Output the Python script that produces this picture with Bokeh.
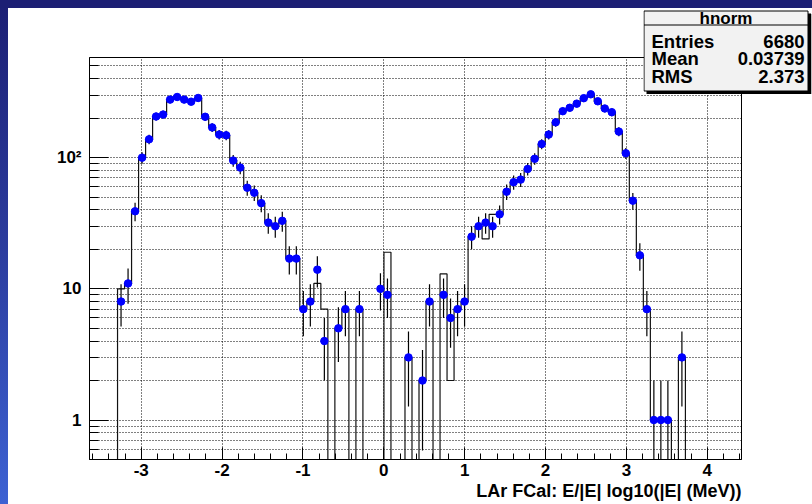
import math
from bokeh.plotting import figure
from bokeh.layouts import column
from bokeh.models import (ColumnDataSource, SingleIntervalTicker, FixedTicker,
                          Title, Range1d)
from bokeh.core.properties import value
from bokeh.embed import file_html
from bokeh.resources import INLINE

# ---- binning of the histogram (axis definition) ----
x_min = -3.64
bin_width = 0.0867
n_bins = 93
first_filled_bin = 4   # index of the first bin listed below

# ---- values: points with error bars (bins from x ~ -3.25 onwards) ----
point_counts = [8, 11, 39, 100, 138, 206, 213, 277, 290, 277,
                267, 285, 205, 170, 150, 148, 95, 84, 59, 54,
                45, 32, 30, 33, 17, 17, 7, 8, 14, 4,
                0, 5, 7, 0, 7, 0, 0, 10, 9, 0,
                0, 3, 0, 2, 8, 0, 9, 6, 7, 8,
                25, 30, 32, 30, 37, 55, 65, 68, 82, 98,
                127, 150, 186, 226, 240, 258, 284, 304, 269, 237,
                222, 158, 108, 47, 18, 7, 1, 1, 1, 0,
                3]

# ---- values: reference histogram drawn as an outline ----
line_counts = [10, 11, 39, 100, 138, 206, 213, 277, 290, 277,
               267, 285, 205, 170, 150, 148, 95, 84, 59, 54,
               45, 32, 30, 33, 17, 17, 7, 8, 11, 7,
               0, 5, 7, 0, 7, 0, 0, 0, 19, 0,
               0, 3, 0, 2, 8, 0, 13, 2, 7, 8,
               25, 30, 24, 37, 37, 55, 65, 68, 82, 98,
               127, 150, 186, 226, 240, 258, 284, 304, 269, 237,
               222, 158, 108, 47, 18, 7, 1, 1, 1, 0,
               3]

y_tick_labels = {1: "1", 10: "10", 100: "10\u00b2"}
x_tick_labels = {-3: "-3", -2: "-2", -1: "-1"}
x_title = "LAr FCal: E/|E| log10(|E| (MeV))"
stats_title = "hnorm"
stats_names = ["Entries", "Mean", "RMS"]
stats_values = ["6680", "0.03739", "2.373"]

FONT = "Liberation Sans"
y_lo, y_hi = 0.5, 580
floor = 1e-3

x_max = x_min + n_bins * bin_width

def padded(counts):
    full = [0] * n_bins
    for i, c in enumerate(counts):
        full[first_filled_bin + i] = c
    return full

line_full = padded(line_counts)
point_full = padded(point_counts)
edges = [x_min + i * bin_width for i in range(n_bins + 1)]

# outline of the histogram
ox, oy = [edges[0]], [floor]
for i, c in enumerate(line_full):
    v = c if c > 0 else floor
    ox += [edges[i], edges[i + 1]]
    oy += [v, v]
ox.append(edges[-1]); oy.append(floor)

centers, vals, lo, hi = [], [], [], []
for i, c in enumerate(point_full):
    if c > 0:
        centers.append(0.5 * (edges[i] + edges[i + 1]))
        vals.append(c)
        e = math.sqrt(c)
        lo.append(max(c - e, floor))
        hi.append(c + e)

src = ColumnDataSource(dict(x=centers, y=vals, lo=lo, hi=hi))

BORDER_L, BORDER_R = 81, 1
p = figure(width=BORDER_L + 652 + BORDER_R, height=496, x_range=(x_min, x_max),
           y_range=(y_lo, y_hi), y_axis_type="log", output_backend="svg",
           toolbar_location=None, min_border_left=BORDER_L, min_border_right=BORDER_R,
           min_border_top=49, min_border_bottom=45)
p.margin = (8, 0, 0, 8)
p.background_fill_color = "white"
p.border_fill_color = "white"
p.outline_line_color = "black"
p.outline_line_width = 1

# axes
xt = SingleIntervalTicker(interval=1, num_minor_ticks=5)
p.xaxis.ticker = xt
p.xgrid.ticker = xt
p.xaxis.major_label_overrides = x_tick_labels
minor = [0.6, 0.7, 0.8, 0.9] + [k * 10 ** d for d in range(0, 3) for k in range(2, 10)]
minor = [m for m in minor if m < y_hi]
yt = FixedTicker(ticks=[1, 10, 100], minor_ticks=minor)
p.yaxis.ticker = yt
p.ygrid.ticker = yt
p.yaxis.major_label_overrides = y_tick_labels

for ax in (p.xaxis[0], p.yaxis[0]):
    ax.axis_line_color = "black"
    ax.major_tick_line_color = "black"
    ax.minor_tick_line_color = "black"
    ax.major_tick_out = 0
    ax.minor_tick_out = 0
    ax.major_label_text_font = FONT
    ax.major_label_text_font_style = "bold"
    ax.major_label_text_font_size = "17px"
    ax.major_label_text_color = "black"
p.xaxis.major_tick_in = 12
p.xaxis.minor_tick_in = 6
p.xaxis.major_label_standoff = 4
p.yaxis.major_tick_in = 19
p.yaxis.minor_tick_in = 9
p.yaxis.major_label_standoff = 8

for g in (p.xgrid[0], p.ygrid[0]):
    g.grid_line_color = "black"
    g.grid_line_dash = "1 2"
    g.grid_line_width = 1
p.ygrid.minor_grid_line_color = "black"
p.ygrid.minor_grid_line_dash = "1 2"

# histogram outline, error bars, points
p.line(ox, oy, line_color="#111111", line_width=1.2)
p.segment(x0="x", y0="lo", x1="x", y1="hi", source=src, line_color="black", line_width=1.2)
p.scatter("x", "y", source=src, size=7.5, fill_color="#0000ff", line_color="#0000ff")

# axis title, right aligned under the frame
p.add_layout(Title(text=x_title, align="right", text_font=FONT, text_font_style="bold",
                   text_font_size="18px", text_color="black", standoff=0), "below")

# ---- statistics box as a small overlay figure ----
# (plots in a column share left/right borders, so this one has the same borders)
BW, BH, SH, PAD = 164, 80, 3, 5
SW, SHT = BW + SH + 1, BH + SH + 1 + PAD
sb = figure(width=BORDER_L + SW + BORDER_R, height=SHT, x_range=Range1d(0, SW),
            y_range=Range1d(SHT, 0), output_backend="svg", toolbar_location=None,
            x_axis_location=None, y_axis_location=None, min_border=0,
            min_border_left=BORDER_L, min_border_right=BORDER_R)
sb.outline_line_color = None
sb.background_fill_alpha = 0
sb.border_fill_alpha = 0
sb.grid.visible = False
top0 = PAD + 0.5
sb.quad(left=[SH + 0.5], right=[BW + SH + 0.5], top=[top0 + SH], bottom=[top0 + BH + SH],
        fill_color="black", line_color="black")
sb.quad(left=[0.5], right=[BW + 0.5], top=[top0], bottom=[top0 + BH],
        fill_color="#f2f2f2", line_color="black", line_width=1)
sb.segment(x0=[0.5], y0=[top0 + 14], x1=[BW + 0.5], y1=[top0 + 14],
           line_color="black", line_width=1)
sb.text(x=[BW / 2 + 0.5], y=[top0 + 7.5], text=[stats_title], text_align="center",
        text_baseline="middle", text_font=value(FONT), text_font_style="bold",
        text_font_size="17px", text_color="black")
rows_y = [top0 + 30, top0 + 47.5, top0 + 65]
sb.text(x=[8] * 3, y=rows_y, text=stats_names, text_align="left",
        text_baseline="middle", text_font=value(FONT), text_font_style="bold",
        text_font_size="18.5px", text_color="black")
sb.text(x=[BW - 3] * 3, y=rows_y, text=stats_values, text_align="right",
        text_baseline="middle", text_font=value(FONT), text_font_style="bold",
        text_font_size="18.5px", text_color="black")
# box of the overlay starts at page (643, 10)
sb.margin = (10 - PAD - 504, 0, 0, 643 - BORDER_L)

bg = ("linear-gradient(#1c1f74, #1c1f74) 0 0 / 100% 8px no-repeat, "
      "linear-gradient(to bottom, #1c1f74, #2c3d9f 50%, #3d62d3) 0 0 / 8px 100% no-repeat, "
      "#ffffff")
root = column(p, sb, width=812, height=504, styles={"background": bg})

open("out.html", "w").write(file_html(root, INLINE))
